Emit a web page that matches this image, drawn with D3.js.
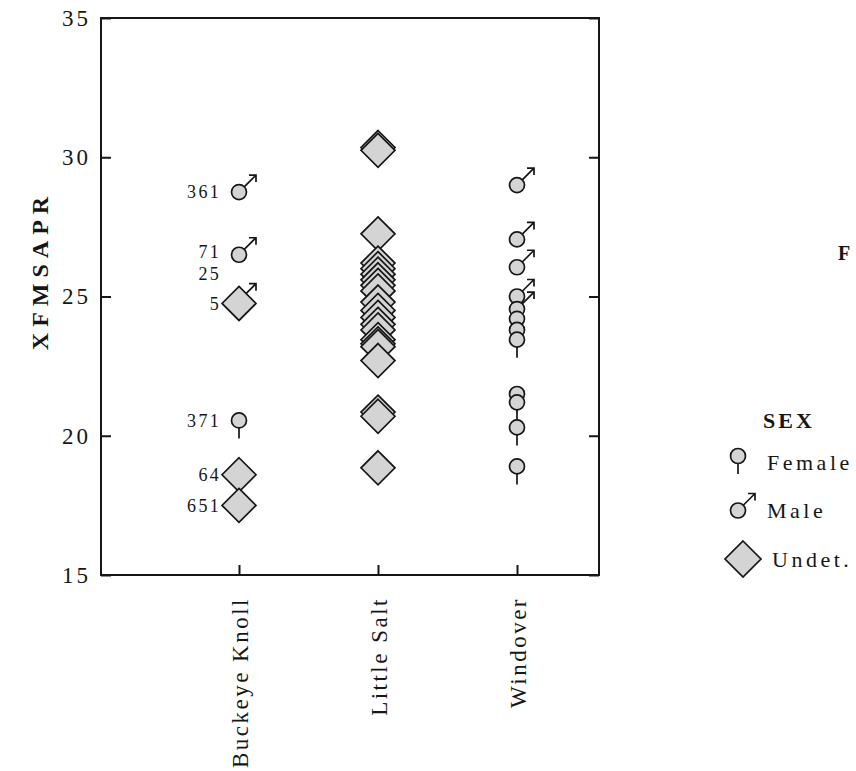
<!DOCTYPE html>
<html lang="en">
  <head>
    <meta charset="utf-8">
    <title>XFMSAPR by site</title>
    <script src="https://d3js.org/d3.v7.min.js"></script>
    <style>
      body { margin: 0; background: #fff; }
      svg { display: block; }
      svg text { font-family: "Liberation Serif", "DejaVu Serif", serif; }
    </style>
  </head>
  <body>
    <svg id="chart" width="856" height="771"></svg>
  <script>
    // sites along the x axis
    const sites = ["Buckeye Knoll", "Little Salt", "Windover"]
    const yTicks = [15, 20, 25, 30, 35]

    // Buckeye Knoll (labelled cases), labelAt = where SYSTAT put the label
    const bkValues = [28.75, 26.5, 24.85, 24.75, 20.55, 18.6, 17.5]
    const bkSex    = ["Male", "Male", "Male", "Undet.", "Female", "Undet.", "Undet."]
    const bkLabels = ["361", "71", "25", "5", "371", "64", "651"]
    const bkLabelAt = [28.75, 26.6, 25.82, 24.75, 20.55, 18.6, 17.5]

    // Little Salt, all undetermined
    const lsValues = [30.35, 30.25, 27.25, 26.2, 26.0, 25.8, 25.6, 25.4, 25.2, 24.8,
                      24.5, 24.25, 24.0, 23.8, 23.45, 23.3, 23.2, 22.7, 20.85, 20.7, 18.85]

    // Windover
    const woValues = [29.0, 27.05, 26.05, 25.0, 24.55, 24.2, 23.8, 23.45, 21.5, 21.2, 20.3, 18.9]
    const woSex    = ["Male", "Male", "Male", "Male", "Male", "Female", "Female", "Female",
                      "Female", "Female", "Female", "Female"]

    const legendItems = ["Female", "Male", "Undet."]

    const fill = "#d4d4d4"
    const ink = "#161616"

    let svg = d3.select("#chart")
    let margin = { top: 18, right: 257, bottom: 196, left: 101 }
    let width = 856, height = 771

    let x = d3.scalePoint()
        .domain(sites)
        .range([239, 517])

    let y = d3.scaleLinear()
        .domain([15, 35])
        .range([height - margin.bottom, margin.top])

    // build points
    let points = []
    bkValues.forEach((v, i) => points.push({ site: sites[0], v: v, sex: bkSex[i], label: bkLabels[i], labelAt: bkLabelAt[i] }))
    lsValues.forEach(v => points.push({ site: sites[1], v: v, sex: "Undet." }))
    woValues.forEach((v, i) => points.push({ site: sites[2], v: v, sex: woSex[i] }))

    function drawMarker(g, sex, big) {
      if (sex === "Undet.") {
        let s = big ? 18 : 17
        g.append("path")
          .attr("d", `M0,${-s}L${s},0L0,${s}L${-s},0Z`)
          .attr("fill", fill).attr("stroke", ink).attr("stroke-width", 1.7)
      } else if (sex === "Female") {
        g.append("line").attr("x1", 0).attr("x2", 0).attr("y1", 7).attr("y2", 18)
          .attr("stroke", ink).attr("stroke-width", 1.7)
        g.append("circle").attr("r", 7.5)
          .attr("fill", fill).attr("stroke", ink).attr("stroke-width", 1.7)
      } else {
        g.append("path")
          .attr("d", "M5,-5L17,-17M10,-17L17,-17L17,-10")
          .attr("fill", "none").attr("stroke", ink).attr("stroke-width", 1.7)
        g.append("circle").attr("r", 7.5)
          .attr("fill", fill).attr("stroke", ink).attr("stroke-width", 1.7)
      }
    }

    // frame
    svg.append("rect")
      .attr("x", margin.left)
      .attr("y", margin.top)
      .attr("width", 599 - margin.left)
      .attr("height", y(15) - margin.top)
      .attr("fill", "none")
      .attr("stroke", ink)
      .attr("stroke-width", 2)

    let yAxis = svg.append("g")
      .attr("transform", `translate(${margin.left},0)`)
      .call(d3.axisLeft(y).tickValues(yTicks).tickSizeInner(-10).tickSizeOuter(0).tickPadding(10))
    yAxis.attr("font-family", null).attr("font-size", null)
    yAxis.select(".domain").remove()
    yAxis.selectAll("line").attr("stroke", ink).attr("stroke-width", 2)
    yAxis.selectAll("text")
      .style("font-size", "23px")
      .style("letter-spacing", "3px")
      .attr("fill", ink)

    let yRight = svg.append("g")
      .attr("transform", `translate(599,0)`)
      .call(d3.axisRight(y).tickValues(yTicks).tickSizeInner(-10).tickSizeOuter(0).tickFormat(""))
    yRight.select(".domain").remove()
    yRight.selectAll("line").attr("stroke", ink).attr("stroke-width", 2)

    let xAxis = svg.append("g")
      .attr("transform", `translate(0,${y(15)})`)
      .call(d3.axisBottom(x).tickSizeInner(-10).tickSizeOuter(0))
    xAxis.attr("font-family", null).attr("font-size", null)
    xAxis.select(".domain").remove()
    xAxis.selectAll("line").attr("stroke", ink).attr("stroke-width", 2)
    xAxis.selectAll("text")
      .attr("transform", "rotate(-90)")
      .attr("x", -22)
      .attr("y", 0)
      .attr("dy", "0.35em")
      .style("text-anchor", "end")
      .style("font-size", "23px")
      .style("letter-spacing", "2.5px")
      .attr("fill", ink)

    // y title
    svg.append("text")
      .attr("transform", `translate(48,${(y(25) - 26)}) rotate(-90)`)
      .attr("text-anchor", "middle")
      .style("font-size", "24px")
      .style("font-weight", "bold")
      .style("letter-spacing", "6px")
      .attr("fill", ink)
      .text("XFMSAPR")

    // points
    let pts = svg.append("g")
    points.forEach(d => {
      let g = pts.append("g").attr("transform", `translate(${x(d.site)},${y(d.v)})`)
      drawMarker(g, d.sex)
    })

    // case labels
    svg.append("g")
      .selectAll("text")
      .data(points.filter(d => d.label))
      .join("text")
      .attr("x", 221)
      .attr("y", d => y(d.labelAt))
      .attr("dy", "0.35em")
      .attr("text-anchor", "end")
      .style("font-size", "18px")
      .style("letter-spacing", "2.3px")
      .attr("fill", ink)
      .text(d => d.label)

    // legend
    let legend = svg.append("g")
    legend.append("text")
      .attr("x", 763).attr("y", 428)
      .style("font-size", "22px")
      .style("letter-spacing", "3px")
      .style("font-weight", "bold")
      .attr("fill", ink)
      .text("SEX")

    let legendY = d3.scalePoint().domain(legendItems).range([462, 559])
    legendItems.forEach(s => {
      let g = legend.append("g").attr("transform", `translate(${s === "Undet." ? 743 : 738},${legendY(s) + (s === "Female" ? -6 : 0)})`)
      drawMarker(g, s, true)
      legend.append("text")
        .attr("x", s === "Undet." ? 772 : 767)
        .attr("y", legendY(s))
        .attr("dy", "0.35em")
        .style("font-size", "22px")
        .style("letter-spacing", "3.5px")
        .attr("fill", ink)
        .text(s)
    })

    // caption cut off at the page edge
    svg.append("text")
      .attr("x", 838).attr("y", 260)
      .style("font-size", "20px")
      .style("font-weight", "bold")
      .attr("fill", ink)
      .text("F")
  </script>
  </body>
</html>
